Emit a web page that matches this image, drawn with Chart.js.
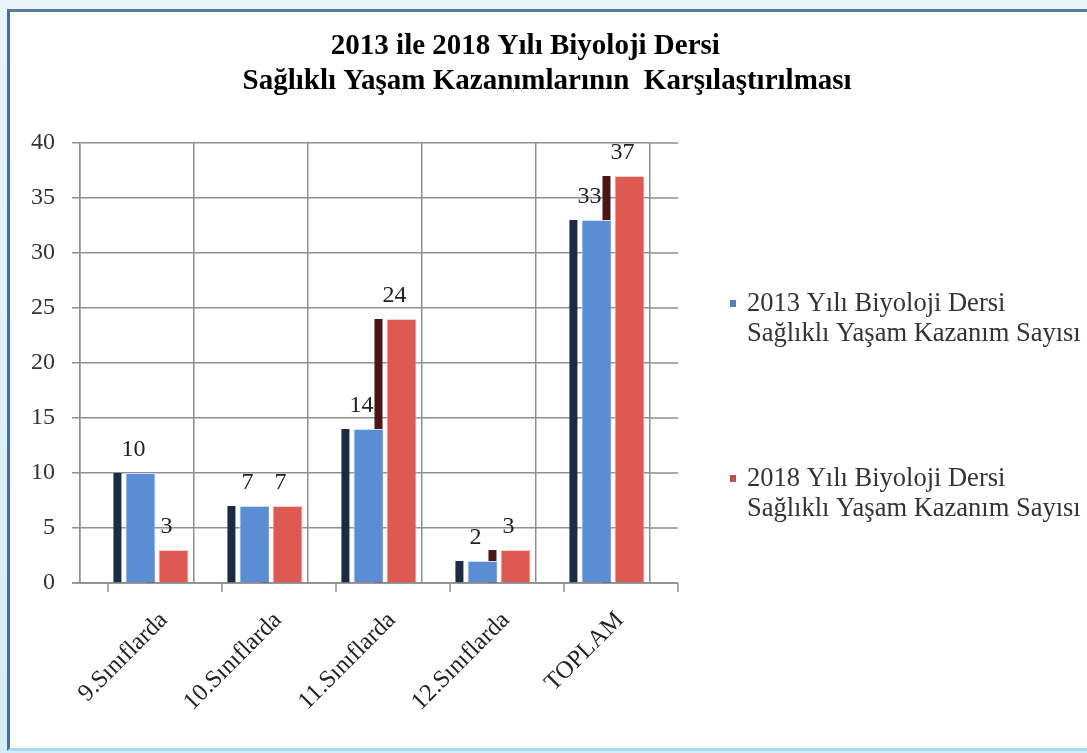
<!DOCTYPE html>
<html>
<head>
<meta charset="utf-8">
<script src="https://cdn.jsdelivr.net/npm/chart.js@4.4.1/dist/chart.umd.min.js"></script>
<style>
  html, body { margin: 0; padding: 0; }
  body { width: 1087px; height: 753px; overflow: hidden; position: relative;
         background: linear-gradient(#e9f4fb, #d6ecf8); }
  #frame { position: absolute; left: 7px; top: 9px; width: 1100px; height: 736px;
           background: #ffffff; border-top: 3px solid #5a7ba1; border-left: 3px solid #4b6d98;
           border-bottom: 3px solid #a5dbf2; box-shadow: inset 0 0 6px #fff7df; }
  #c { position: absolute; left: 0; top: 0; }
</style>
</head>
<body>
<div id="frame"></div>
<canvas id="c" width="1087" height="753"></canvas>
<script>
// ---- data ----
const categories = ["9.Sınıflarda", "10.Sınıflarda", "11.Sınıflarda", "12.Sınıflarda", "TOPLAM"];
const values2013 = [10, 7, 14, 2, 33];
const values2018 = [3, 7, 24, 3, 37];
const seriesNames = [
  "2013 Yılı Biyoloji Dersi\nSağlıklı Yaşam Kazanım Sayısı",
  "2018 Yılı Biyoloji Dersi\nSağlıklı Yaşam Kazanım Sayısı"
];
const yTickValues = [0, 5, 10, 15, 20, 25, 30, 35, 40];
const titleLines = [
  "2013 ile 2018 Yılı Biyoloji Dersi     ",
  " Sağlıklı Yaşam Kazanımlarının  Karşılaştırılması"
];

// ---- style ----
const FONT = "'Liberation Serif', 'Times New Roman', serif";
const GRID = "#8f8f8f";
const BLUE = "#5a8dd3", RED = "#dd5a53";
const BLUE_SIDE = "#1c2a43", RED_SIDE = "#4a1616";
const SHIFT = 20;      // depth offset of the bar row
const SIDE_W = 8;      // visible side face width
const FRONT = 28;      // front-plane offset of floor ticks

const sideColors = [BLUE_SIDE, RED_SIDE];
const legendColors = ["#4f81bd", "#c0504d"];

const depthPlugin = {
  id: "depth3d",
  beforeDatasetsDraw(chart) {
    const { ctx, chartArea: ca, scales: { x, y } } = chart;
    ctx.save();
    ctx.strokeStyle = GRID;
    ctx.lineWidth = 1.5;
    const line = (x1, y1, x2, y2) => { ctx.beginPath(); ctx.moveTo(x1, y1); ctx.lineTo(x2, y2); ctx.stroke(); };
    y.ticks.forEach(t => {
      const py = y.getPixelForValue(t.value);
      line(ca.right, py, ca.right + FRONT, py);
    });
    line(ca.left - 8, ca.bottom, ca.right + FRONT, ca.bottom);
    for (let i = 0; i <= categories.length; i++) {
      const px = x.getPixelForValue(i - 0.5) + FRONT;
      line(px, ca.bottom, px, ca.bottom + 9);
    }
    ctx.restore();

    ctx.save();
    ctx.translate(SHIFT, 0);
    chart.data.datasets.forEach((ds, di) => {
      const meta = chart.getDatasetMeta(di);
      meta.data.forEach(el => {
        const p = el.getProps(["x", "y", "base", "width"], true);
        const left = p.x - p.width / 2;
        ctx.fillStyle = sideColors[di];
        ctx.fillRect(left - 12, p.y, SIDE_W, p.base - p.y);
      });
    });
  },
  afterDatasetsDraw(chart) {
    const { ctx } = chart;
    ctx.font = "24px " + FONT;
    ctx.fillStyle = "#222";
    ctx.textAlign = "center";
    ctx.textBaseline = "middle";
    chart.data.datasets.forEach((ds, di) => {
      const meta = chart.getDatasetMeta(di);
      meta.data.forEach((el, i) => {
        const p = el.getProps(["x", "y"], true);
        ctx.fillText(String(ds.data[i]), p.x - 7, p.y - 23);
      });
    });
    ctx.restore();
  },
  afterDraw(chart) {
    const { ctx } = chart;
    ctx.save();
    ctx.font = "26.5px " + FONT;
    ctx.textAlign = "left";
    ctx.textBaseline = "middle";
    const tops = [304, 479];
    chart.data.datasets.forEach((ds, di) => {
      const lines = ds.label.split("\n");
      const y0 = tops[di];
      ctx.fillStyle = legendColors[di];
      ctx.fillRect(730, y0 - 4, 6, 7);
      ctx.fillStyle = "#333";
      lines.forEach((ln, k) => ctx.fillText(ln, 747, y0 + k * 30));
    });
    ctx.restore();
  }
};

new Chart(document.getElementById("c"), {
  type: "bar",
  data: {
    labels: categories,
    datasets: [
      { label: seriesNames[0], data: values2013, backgroundColor: BLUE, borderColor: "#cfe0f6", borderWidth: 1,
        categoryPercentage: 0.58, barPercentage: 0.91 },
      { label: seriesNames[1], data: values2018, backgroundColor: RED, borderColor: "#f5cfcb", borderWidth: 1,
        categoryPercentage: 0.58, barPercentage: 0.91 }
    ]
  },
  options: {
    responsive: false,
    animation: false,
    devicePixelRatio: 1,
    layout: { padding: 0 },
    plugins: {
      legend: { display: false },
      tooltip: { enabled: false },
      title: {
        display: true,
        text: titleLines,
        color: "#000",
        font: { family: FONT, size: 29, weight: "bold", lineHeight: 1.2 },
        padding: { top: 29, bottom: 44.4 }
      }
    },
    scales: {
      x: {
        grid: { color: GRID, lineWidth: 1.5, offset: true, drawTicks: false },
        border: { display: true, color: GRID, width: 1.5 },
        ticks: {
          autoSkip: false, minRotation: 45, maxRotation: 45,
          labelOffset: 27, padding: 23, color: "#222",
          font: { family: FONT, size: 24.5 }
        },
        afterFit(s) { s.height = 170; }
      },
      y: {
        min: 0, max: 40,
        grid: { color: GRID, lineWidth: 1.5, tickLength: 8, drawTicks: true },
        border: { display: true, color: GRID, width: 1.5 },
        ticks: { padding: 17, color: "#333", font: { family: FONT, size: 24 } },
        afterBuildTicks(s) { s.ticks = yTickValues.map(v => ({ value: v })); },
        afterFit(s) { s.width = 80; }
      },
      yr: {
        position: "right", display: true,
        grid: { display: false }, border: { display: false }, ticks: { display: false },
        afterFit(s) { s.width = 437; }
      }
    }
  },
  plugins: [depthPlugin]
});
</script>
</body>
</html>
